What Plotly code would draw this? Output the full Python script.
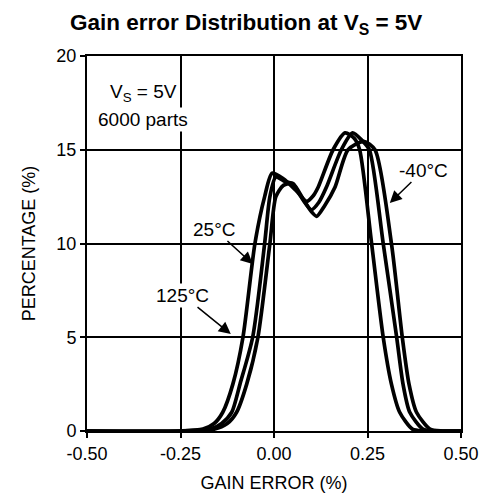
import plotly.graph_objects as go

# Data
x_125 = [-0.5, -0.25, -0.19, -0.16, -0.137, -0.11, -0.083, -0.051, -0.025, -0.005, 0.025, 0.06, 0.087,
         0.105, 0.118, 0.158, 0.19, 0.215, 0.229, 0.261, 0.292, 0.314, 0.336, 0.37, 0.40, 0.5]
y_125 = [0, 0, 0.1, 0.4, 1, 2.5, 5, 10, 12.5, 13.75, 13.45, 12.8, 12.25,
         12.55, 13, 15, 15.9, 15.6, 15, 10, 5, 2.5, 1, 0.1, 0, 0]

x_25 = [-0.5, -0.25, -0.17, -0.14, -0.113, -0.091, -0.057, -0.025, -0.011, 0.005, 0.03, 0.05, 0.075,
        0.1, 0.12, 0.14, 0.18, 0.21, 0.235, 0.255, 0.292, 0.328, 0.345, 0.363, 0.398, 0.43, 0.5]
y_25 = [0, 0, 0.1, 0.4, 1, 2.5, 5, 10, 12.5, 13.55, 13.3, 13.2, 12.4,
        11.8, 12.2, 13, 15, 15.9, 15.5, 15, 10, 5, 2.5, 1, 0.1, 0, 0]

x_m40 = [-0.5, -0.25, -0.16, -0.125, -0.1, -0.073, -0.043, -0.011, 0.005, 0.025, 0.05, 0.08, 0.1,
         0.114, 0.135, 0.163, 0.198, 0.24, 0.27, 0.314, 0.343, 0.361, 0.381, 0.417, 0.45, 0.5]
y_m40 = [0, 0, 0.1, 0.4, 1, 2.5, 5, 10, 12.5, 13.1, 13.2, 12.3, 11.7,
         11.45, 12, 13, 15, 15.45, 15, 10, 5, 2.5, 1, 0.1, 0, 0]

x_ticks = [-0.5, -0.25, 0, 0.25, 0.5]
x_ticktext = ["-0.50", "-0.25", "0.00", "0.25", "0.50"]
y_ticks = [0, 5, 10, 15, 20]

FONT = "Arial, Liberation Sans, sans-serif"

fig = go.Figure()
for xs, ys, name in [(x_125, y_125, "125°C"), (x_25, y_25, "25°C"), (x_m40, y_m40, "-40°C")]:
    fig.add_trace(go.Scatter(x=xs, y=ys, mode="lines", name=name,
                             line=dict(color="black", width=3.7, shape="spline", smoothing=0.7),
                             showlegend=False))

axis_common = dict(showgrid=True, gridcolor="black", gridwidth=1.5, showline=True, linecolor="black",
                   linewidth=2, mirror=True, ticks="outside", ticklen=5, tickcolor="black", tickwidth=1.5,
                   zeroline=False, tickfont=dict(family=FONT, size=18, color="black"))

fig.update_layout(
    width=487, height=500,
    margin=dict(l=79, r=34, t=48, b=77),
    paper_bgcolor="white", plot_bgcolor="white",
    title=dict(text="<b>Gain error Distribution at V<sub>S</sub> = 5V</b>", x=0.489, xanchor="center",
               y=0.972, yanchor="middle", font=dict(family=FONT, size=22.5, color="black")),
    xaxis=dict(range=[-0.5, 0.5], tickvals=x_ticks, ticktext=x_ticktext,
               title=dict(text="GAIN ERROR (%)", standoff=14, font=dict(family=FONT, size=18, color="black")),
               **axis_common),
    yaxis=dict(range=[0, 20], tickvals=y_ticks,
               title=dict(text="PERCENTAGE (%)", standoff=16, font=dict(family=FONT, size=18, color="black")),
               **axis_common),
)

afont = dict(family=FONT, size=19, color="black")
# text labels
fig.add_annotation(x=-0.348, y=18.03, text="V<sub>S</sub> = 5V", showarrow=False, font=afont,
                   bgcolor="white", xanchor="center", yanchor="middle")
fig.add_annotation(x=-0.3495, y=16.61, text="6000 parts", showarrow=False, font=afont,
                   bgcolor="white", xanchor="center", yanchor="middle")

# labels with arrows: (label text, label position, arrow tip)
arrow_labels = [("25°C", (-0.16, 10.77), (-0.0567, 8.91)),
                ("125°C", (-0.244, 7.25), (-0.1155, 5.17)),
                ("-40°C", (0.4005, 13.92), (0.3096, 12.16))]
for txt, lab, tip in arrow_labels:
    fig.add_annotation(x=tip[0], y=tip[1], ax=lab[0], ay=lab[1], axref="x", ayref="y",
                       xref="x", yref="y", text=txt, font=afont, bgcolor="white",
                       showarrow=True, arrowhead=2, arrowsize=1.6,
                       arrowwidth=1.5, arrowcolor="black", standoff=0)

fig.write_html("out.html")
